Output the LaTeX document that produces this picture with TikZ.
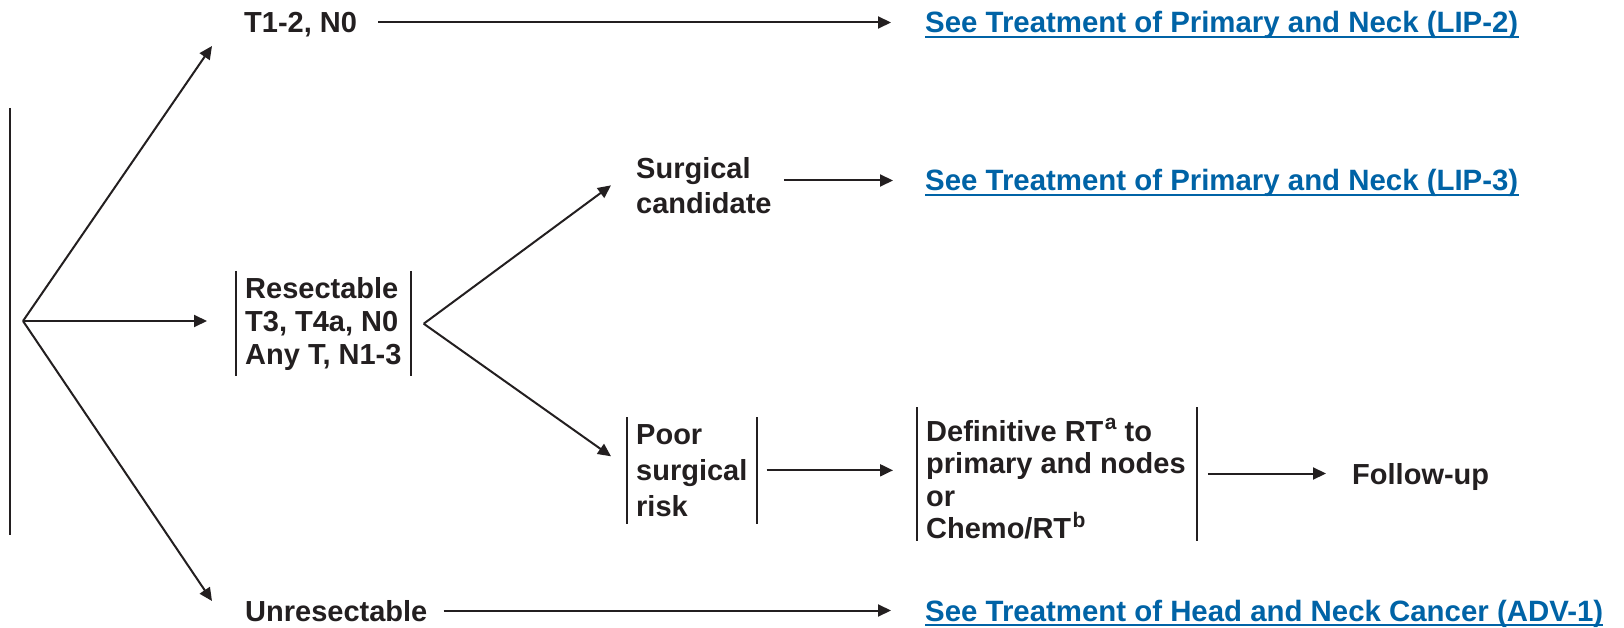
\documentclass[tikz,border=0pt]{standalone}
\usepackage{fontspec}
\setmainfont{Liberation Sans}
\usetikzlibrary{arrows.meta}
\definecolor{ink}{RGB}{35,31,32}
\definecolor{linkblue}{RGB}{0,99,166}
\newcommand{\supx}[1]{\kern1.5pt\raisebox{0.4em}{\fontsize{21}{21}\selectfont #1}}
\begin{document}
\begin{tikzpicture}[x=1pt,y=-1pt,
  txt/.style={inner sep=0pt, text=ink, font=\fontsize{29}{33}\selectfont\bfseries},
  one/.style={txt, anchor=base west, text height=21pt, text depth=0pt},
  lnk/.style={one, text=linkblue, font=\fontsize{29.4}{33}\selectfont\bfseries},
  arr/.style={draw=ink, line width=2pt, -{Triangle[length=13pt,width=12pt]}},
  bar/.style={draw=ink, line width=2pt},
  uline/.style={draw=linkblue, line width=2pt}]
\useasboundingbox (0,0) rectangle (1624,628);

% nodes
\node[one] (t12) at (244,33) {T1-2, N0};
\node[lnk] (l2) at (925,33) {See Treatment of Primary and Neck (LIP-2)};
\node[txt, align=left, anchor=north west, inner xsep=9pt, inner ysep=6pt] (res) at (236,271)
  {Resectable\\T3, T4a, N0\\Any T, N1-3};
\node[txt, align=left, anchor=north west, font=\fontsize{29}{35}\selectfont\bfseries] (sc) at (636,157)
  {Surgical\\candidate};
\node[lnk] (l3) at (925,191) {See Treatment of Primary and Neck (LIP-3)};
\node[txt, align=left, anchor=north west, inner xsep=9pt, inner ysep=7pt, font=\fontsize{29}{36}\selectfont\bfseries] (poor) at (627,417)
  {Poor\\surgical\\risk};
\node[txt, align=left, anchor=north west, inner xsep=9pt, inner ysep=0pt, font=\fontsize{29}{32.5}\selectfont\bfseries] (def) at (917,418)
  {Definitive RT\supx{a} to\\primary and nodes\\or\\Chemo/RT\supx{b}};
\node[one] (fu) at (1352,484) {Follow-up};
\node[one] (un) at (245,621) {Unresectable};
\node[lnk] (l1) at (925,621) {See Treatment of Head and Neck Cancer (ADV-1)};

\coordinate (o) at (23,321);
\coordinate (rf) at ([shift={(13,0)}]res.east);

% left bar
\draw[bar] (10,108) -- (10,535);

% bars of bracket boxes
\draw[bar] (res.north west) -- (res.south west);
\draw[bar] (res.north east) -- (res.south east);
\draw[bar] (poor.north west) -- (poor.south west);
\draw[bar] (poor.north east) -- (poor.south east);
\draw[bar] ([shift={(0,-11)}]def.north west) -- ([shift={(0,2)}]def.south west);
\draw[bar] ([shift={(2,-11)}]def.north east) -- ([shift={(2,2)}]def.south east);

% underlines of links
\foreach \n in {l1,l2,l3}{
  \draw[uline] ([shift={(0,4)}]\n.base west) -- ([shift={(0,4)}]\n.base east);
}

% connectors
\draw[arr] (o) -- ([shift={(-32,13)}]t12.base west);
\draw[arr] (o) -- ([shift={(-29,0)}]res.west |- o);
\draw[arr] (o) -- ([shift={(-33,-20)}]un.base west);
\draw[arr] ([shift={(21,0)}]t12.east) -- ([shift={(-34,0)}]l2.west);
\draw[arr] ([shift={(16,0)}]un.east) -- ([shift={(-34,0)}]l1.west);
\draw[arr] (rf) -- ([shift={(-25,0)}]sc.west);
\draw[arr] (rf) -- ([shift={(-16,-14)}]poor.west);
\draw[arr] ([shift={(12,0)}]sc.east |- l3.west) -- ([shift={(-32,0)}]l3.west);
\draw[arr] ([shift={(10,0)}]poor.east) -- ([shift={(-24,0)}]poor.east -| def.west);
\draw[arr] ([shift={(13,0)}]def.east |- fu.west) -- ([shift={(-26,0)}]fu.west);
\end{tikzpicture}
\end{document}
